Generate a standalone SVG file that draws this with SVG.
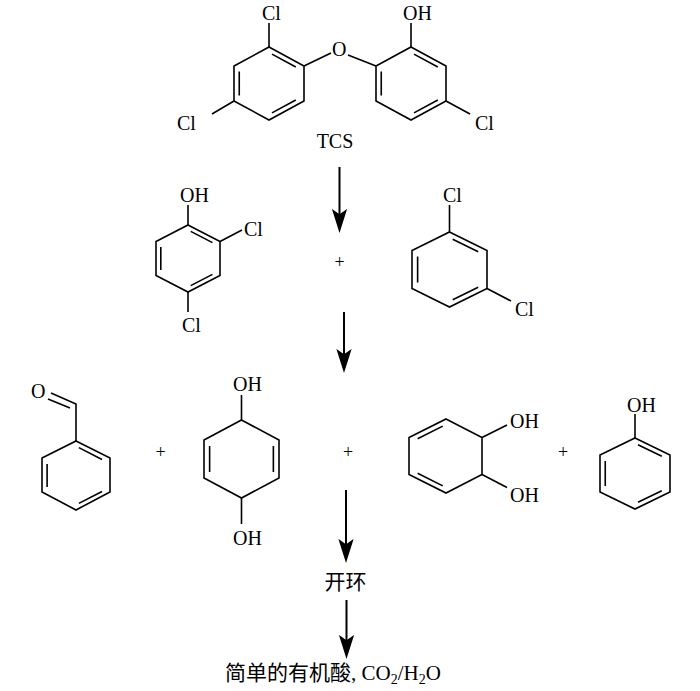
<svg xmlns="http://www.w3.org/2000/svg" width="700" height="691" viewBox="0 0 700 691">
<defs>
<style>
.bond{fill:none;stroke:#000;stroke-width:1.6;stroke-linejoin:miter;stroke-linecap:butt}
.lbl{font-family:"Liberation Serif","Times New Roman",serif;font-size:20px;fill:#000}
.plus{font-family:"Liberation Serif","Times New Roman",serif;font-size:18px;fill:#000;text-anchor:middle}
.cjk{font-family:"Liberation Serif","Noto Sans CJK SC",serif;font-size:21px;fill:#000}
.arrow{stroke:#000;stroke-width:2;fill:none}
</style>
<marker id="ah" markerUnits="userSpaceOnUse" markerWidth="24" markerHeight="16" viewBox="0 0 22 14" refX="12" refY="7" orient="auto">
<path d="M0,0 L22,7 L0,14 L5,7 Z" fill="#000"/>
</marker>
</defs>
<rect width="700" height="691" fill="#fff"/>

<g id="tcs">
<path class="bond" d="M269,47 L304,66 L304,101 L269,120 L234,101 L234,66 Z"/>
<path class="bond" d="M271.98,54.11 L295.78,66.99 M295.78,100.01 L271.98,112.89 M239.25,95.42 L239.25,71.58"/>
<path class="bond" d="M411,47 L446,66 L446,101 L411,120 L376,101 L376,66 Z"/>
<path class="bond" d="M413.98,54.11 L437.78,66.99 M437.78,100.01 L413.98,112.89 M381.25,95.42 L381.25,71.58"/>
<path class="bond" d="M269,47 L269,23 M304,66 L331,53 M348,55 L376,66 M411,47 L411,23 M234,101 L212,114 M446,101 L470,114"/>
<text class="lbl" x="262" y="20">Cl</text>
<text class="lbl" x="332" y="56">O</text>
<text class="lbl" x="403" y="20">OH</text>
<text class="lbl" x="177" y="130">Cl</text>
<text class="lbl" x="475" y="130">Cl</text>
<text class="lbl" x="335" y="148" text-anchor="middle">TCS</text>
</g>

<g id="dichlorophenol">
<path class="bond" d="M188,225 L220,241.5 L220,275.5 L188,292 L156,275.5 L156,241.5 Z"/>
<path class="bond" d="M190.72,231.4 L212.48,242.64 M212.48,274.36 L190.72,285.6 M160.8,270.06 L160.8,246.94"/>
<path class="bond" d="M188,225 L188,205 M220,241.5 L242,230 M188,292 L188,312"/>
<text class="lbl" x="180" y="202">OH</text>
<text class="lbl" x="244" y="236">Cl</text>
<text class="lbl" x="182" y="332">Cl</text>
</g>

<g id="plus1"><text class="plus" x="339.5" y="267.5">+</text></g>

<g id="dichlorobenzene">
<path class="bond" d="M449.5,232 L487,250.5 L487,288.5 L449.5,307 L412,288.5 L412,250.5 Z"/>
<path class="bond" d="M452.69,239.2 L478.19,251.78 M478.19,287.22 L452.69,299.8 M417.625,282.42 L417.625,256.58"/>
<path class="bond" d="M449.5,232 L449.5,205 M487,288.5 L511,301"/>
<text class="lbl" x="443" y="202">Cl</text>
<text class="lbl" x="515" y="316">Cl</text>
</g>

<g id="benzaldehyde">
<path class="bond" d="M76,441 L110,458 L110,492 L76,510 L42,492 L42,458 Z"/>
<path class="bond" d="M78.89,447.66 L102.01,459.56 M102.01,491.44 L78.89,503.34 M47.1,487.06 L47.1,463.94"/>
<path class="bond" d="M76,441 L76,404 L51,393 M70,408 L48,399"/>
<text class="lbl" x="31" y="398">O</text>
</g>

<g id="plus2"><text class="plus" x="160.5" y="457.5">+</text></g>

<g id="diol14">
<path class="bond" d="M241.5,420 L279,440 L279,478 L241.5,498 L204,478 L204,440 Z"/>
<path class="bond" d="M209.625,446.08 L209.625,471.92 M273.375,446.08 L273.375,471.92"/>
<path class="bond" d="M241.5,420 L241.5,395 M241.5,498 L241.5,524"/>
<text class="lbl" x="233" y="391">OH</text>
<text class="lbl" x="233" y="545">OH</text>
</g>

<g id="plus3"><text class="plus" x="348" y="457.5">+</text></g>

<g id="diol12">
<path class="bond" d="M446,419 L482,437.5 L482,474.5 L446,493 L409,474.5 L409,437.5 Z"/>
<path class="bond" d="M442.76,426.12 L417.62,438.7 M417.62,473.3 L442.76,485.88"/>
<path class="bond" d="M482,437.5 L507,425 M482,474.5 L507,487.5"/>
<text class="lbl" x="510" y="428">OH</text>
<text class="lbl" x="510" y="502">OH</text>
</g>

<g id="plus4"><text class="plus" x="563" y="457.5">+</text></g>

<g id="phenol">
<path class="bond" d="M635,438 L670,455 L670,492 L635,509 L600,492 L600,455 Z"/>
<path class="bond" d="M637.98,444.77 L661.78,456.33 M661.78,490.67 L637.98,502.23 M605.25,486.08 L605.25,460.92"/>
<path class="bond" d="M635,438 L635,414"/>
<text class="lbl" x="627" y="412">OH</text>
</g>

<g id="ring-opening"><text class="cjk" x="345.5" y="589" text-anchor="middle">开环</text></g>

<g id="products"><text class="cjk" x="225" y="680">简单的有机酸<tspan font-family="Liberation Serif, serif">, CO</tspan><tspan font-family="Liberation Serif, serif" font-size="14" dy="4">2</tspan><tspan font-family="Liberation Serif, serif" dy="-4">/H</tspan><tspan font-family="Liberation Serif, serif" font-size="14" dy="4">2</tspan><tspan font-family="Liberation Serif, serif" dy="-4">O</tspan></text></g>

<g id="connectors">
<line class="arrow" x1="339.5" y1="167" x2="339.5" y2="222" marker-end="url(#ah)"/>
<line class="arrow" x1="344" y1="312" x2="344" y2="362" marker-end="url(#ah)"/>
<line class="arrow" x1="346" y1="490" x2="346" y2="552" marker-end="url(#ah)"/>
<line class="arrow" x1="346.5" y1="600" x2="346.5" y2="648" marker-end="url(#ah)"/>
</g>
</svg>
